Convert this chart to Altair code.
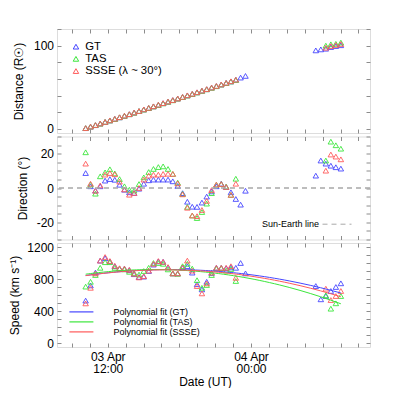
import altair as alt
import pandas as pd

# ---------------- data (hours since 2010-04-03 00:00 UT) ----------------
T1 = [10.15, 10.56, 10.97, 11.37, 11.78, 12.18, 12.59, 12.99, 13.40, 13.81,
      14.21, 14.62, 15.02, 15.43, 15.83, 16.24, 16.64, 17.05, 17.45, 17.86,
      18.27, 18.67, 19.08, 19.48, 19.89, 20.29, 20.70, 21.10, 21.51, 21.92,
      22.32, 22.73, 23.13, 23.54]
T2 = [29.43, 29.85, 30.27, 30.69, 31.11, 31.53]

SERIES = ["GT", "TAS", "SSSE"]
COLORS = ["#4646ff", "#3ce63c", "#ff5a5a"]

DIST_GT = [0.8, 2.6, 4.4, 6.4, 8.2, 10.1, 12.0, 13.8, 15.7, 17.6, 19.5, 21.3, 23.3, 25.1,
           27.0, 28.8, 30.8, 32.6, 34.5, 36.4, 38.2, 40.2, 42.0, 43.9, 45.8, 47.6, 49.6,
           51.4, 53.3, 55.2, 57.0, 59.0, 61.6, 63.6]
DIST_GT_2 = [94.3, 95.5, 96.3, 98.3, 99.5, 100.5]
DIST_TAS = [0.9, 2.7, 4.5, 6.2, 8.3, 10.0, 11.8, 13.9, 15.6, 17.5, 19.3, 21.4, 23.1, 25.0,
            26.9, 28.7, 30.6, 32.5, 34.3, 36.3, 38.1, 40.0, 41.8, 43.7, 45.6, 47.5, 49.3,
            51.2, 53.2, 55.0, 56.9, 58.7]
DIST_TAS_2 = [100.0, 101.6, 102.2, 103.7]
DIST_SSSE = [0.9, 2.7, 4.6, 6.4, 8.3, 10.2, 12.1, 14.0, 15.8, 17.7, 19.6, 21.4, 23.4, 25.2,
             27.1, 29.0, 30.9, 32.8, 34.6, 36.5, 38.4, 40.3, 42.1, 44.0, 45.9, 47.8, 49.6,
             51.6, 53.4, 55.3, 57.2, 59.1]
DIST_SSSE_2 = [97.5, 99.5, 100.8, 102.0]

DIR_GT = [8.7, 1.0, -1.5, 1.0, 4.3, 5.2, 4.8, 1.9, -1.0, -2.5, -2.9, -0.4, 2.5, 4.5,
          4.9, 4.9, 4.9, 4.9, 3.9, 1.2, -3.0, -8.0, -10.9, -11.0, -8.5, -5.0, -2.0,
          1.0, 2.5, 0.6, -2.5, -6.4, -9.7, -1.6]
DIR_GT_2 = [7.2, 16.0, 14.2, 13.0, 12.1, 11.3]
DIR_TAS = [20.8, 2.0, -3.3, 6.8, 9.1, 10.9, 8.5, 5.2, 1.0, -1.0, -1.5, 2.3, 6.2, 9.3,
           11.1, 12.2, 12.6, 11.1, 8.2, 3.1, -3.5, -11.0, -16.0, -17.5, -14.0, -9.1,
           -3.0, 1.9, 2.3, 0.8, -4.0, 5.4]
DIR_TAS_2 = [16.0, 27.0, 24.9, 22.9]
DIR_SSSE = [14.2, 2.5, -1.6, 1.5, 7.8, 8.7, 8.0, 3.7, -0.8, -3.9, -2.9, 0.0, 4.9, 7.2,
            7.8, 7.8, 8.2, 8.3, 8.2, 2.7, -3.7, -11.5, -16.0, -16.4, -12.8, -7.5, -1.2,
            2.0, 2.3, 0.6, -4.0, 2.5]
DIR_SSSE_2 = [10.1, 19.5, 18.3, 16.7]

SPD_GT = [530, 720, 880, 1030, 1060, 1020, 960, 930, 930, 910, 860, 825, 830, 900,
          980, 1020, 1015, 945, 870, 870, 940, 960, 880, 735, 670, 765, 875, 940,
          940, 935, 945, 940, 1000, 870]
SPD_GT_2 = [712, 546, 587, 650, 700, 746]
SPD_TAS = [705, 765, 850, 940, 1010, 1010, 940, 930, 920, 890, 875, 855, 900, 940,
           1000, 1000, 990, 920, 870, 865, 960, 990, 930, 785, 690, 725, 850, 930,
           935, 905, 925, 775]
SPD_TAS_2 = [596, 429, 496, 587]
SPD_SSSE = [495, 690, 870, 1030, 1075, 1025, 965, 935, 930, 915, 865, 820, 835, 905,
            990, 1025, 1015, 950, 870, 870, 945, 1030, 905, 712, 620, 745, 880, 940,
            940, 940, 960, 815]
SPD_SSSE_2 = [679, 537, 587, 650]

X_TICKS = [9, 10.5, 12, 13.5, 15, 16.5, 18, 19.5, 21, 22.5, 24, 25.5, 27, 28.5, 30, 31.5, 33]
X_LABELS = {12: ["03 Apr", "12:00"], 24: ["04 Apr", "00:00"]}
DIST_TICKS = [0, 20, 40, 60, 80, 100, 120]
DIST_LABELS = [0, 100]
DIR_TICKS = [-30, -25, -20, -15, -10, -5, 0, 5, 10, 15, 20, 25, 30]
DIR_LABELS = [-20, 0, 20]
SPD_TICKS = [0, 100, 200, 300, 400, 500, 600, 700, 800, 900, 1000, 1100, 1200]
SPD_LABELS = [0, 400, 800, 1200]


def long(parts):
    rows = []
    for s, (a, b) in zip(SERIES, parts):
        times = T1[:len(a)] + T2[len(T2) - len(b):]
        for t, v in zip(times, list(a) + list(b)):
            rows.append({"t": t, "v": v, "s": s})
    return pd.DataFrame(rows)


df_dist = long([(DIST_GT, DIST_GT_2), (DIST_TAS, DIST_TAS_2), (DIST_SSSE, DIST_SSSE_2)])
df_dir = long([(DIR_GT, DIR_GT_2), (DIR_TAS, DIR_TAS_2), (DIR_SSSE, DIR_SSSE_2)])
df_spd = long([(SPD_GT, SPD_GT_2), (SPD_TAS, SPD_TAS_2), (SPD_SSSE, SPD_SSSE_2)])
df_zero = pd.DataFrame({"y": [0], "lab": ["Sun-Earth line"]})

# ---------------- styling ----------------
FONT = "Liberation Sans"
GRAY = "#8c8c8c"
W = 313
TICK = {"expr": "-4"}
XSCALE = alt.Scale(domain=[7.75, 33.97], nice=False, zero=False)


def test_of(vals):
    return " || ".join(f"datum.value == {v}" for v in vals)


def x_axis(orient, labels=False, title=None):
    kw = dict(orient=orient, values=X_TICKS, tickSize=TICK, tickColor=GRAY, domain=False,
              grid=False, labels=labels, title=title)
    if labels:
        expr = " : ".join(
            f"datum.value == {k} ? ['{v[0]}', '{v[1]}']" for k, v in X_LABELS.items()) + " : ''"
        kw.update(labelExpr=expr, labelPadding=8.5,
                  labelFontSize={"condition": {"test": test_of(X_LABELS), "value": 12}, "value": 0},
                  labelLineHeight=12, labelOverlap=False, labelFlush=False, labelBound=False,
                  titleFontSize=12, titlePadding=2, titleFontWeight="normal", titleX=148)
    return alt.Axis(**kw)


def y_axis(orient, ticks, labs, title=None, title_x=None):
    kw = dict(orient=orient, values=ticks, tickSize=TICK, tickColor=GRAY, domain=False,
              grid=False, labels=title is not None, title=title)
    if title is not None:
        kw.update(labelExpr=f"({test_of(labs)}) ? replace(datum.label, '\u2212', '-') : ''",
                  labelPadding=7.5,
                  labelFontSize={"condition": {"test": test_of(labs), "value": 12}, "value": 0},
                  format="d", labelOverlap=False, labelFlush=False, titleFontSize=12,
                  titleFontWeight="normal", titlePadding=5)
        if title_x is not None:
            kw.update(titleX=title_x)
    return alt.Axis(**kw)


def points(df, yscale, ax_y, legend=None, xaxis=None):
    return alt.Chart(df).mark_point(shape="triangle-up", filled=False, size=30,
                                   strokeWidth=0.9, opacity=1).encode(
        x=alt.X("t:Q", scale=XSCALE, axis=xaxis if xaxis is not None else x_axis("bottom")),
        y=alt.Y("v:Q", scale=yscale, axis=ax_y),
        color=alt.Color("s:N", scale=alt.Scale(domain=SERIES, range=COLORS), legend=legend),
    )


def frame(df, yscale, ticks):
    return alt.Chart(df).mark_point(opacity=0).encode(
        x=alt.X("t:Q", scale=XSCALE, axis=x_axis("top")),
        y=alt.Y("v:Q", scale=yscale, axis=y_axis("right", ticks, [])),
    )


# ---- panel 1: distance
ys1 = alt.Scale(domain=[-5, 120], nice=False, zero=False)
leg1 = alt.Legend(orient="none", legendX=13.3, legendY=12, title=None, padding=0,
                  symbolSize=30, symbolStrokeWidth=1, labelFontSize=11.3, labelOffset=3.7,
                  rowPadding=0.2, labelFont=FONT,
                  labelExpr="datum.label == 'SSSE' ? 'SSSE (λ ~ 30°)' : datum.label")
p1 = alt.layer(
    points(df_dist, ys1, y_axis("left", DIST_TICKS, DIST_LABELS, "Distance (R☉)", -31.3), leg1),
    frame(df_dist, ys1, DIST_TICKS),
).resolve_axis(x="independent", y="independent").properties(width=W, height=104)

# ---- panel 2: direction
ys2 = alt.Scale(domain=[-30, 30], nice=False, zero=False)
zero = alt.Chart(df_zero).mark_rule(color="#a8a8a8", strokeWidth=1.3).encode(
    y=alt.Y("y:Q", scale=ys2, axis=None),
    strokeDash=alt.StrokeDash("lab:N", scale=alt.Scale(range=[[5, 4]]),
                              legend=alt.Legend(orient="none", legendX=265, legendY=72.7,
                                                title=None, padding=0, symbolType="stroke",
                                                symbolSize=841, symbolStrokeColor="#a8a8a8",
                                                symbolStrokeWidth=1, labelFontSize=9,
                                                labelAlign="right", labelOffset={"expr": "-33"},
                                                labelFont=FONT)),
)
p2 = alt.layer(
    points(df_dir, ys2, y_axis("left", DIR_TICKS, DIR_LABELS, "Direction (°)", -28)),
    frame(df_dir, ys2, DIR_TICKS),
    zero,
).resolve_axis(x="independent", y="independent").properties(width=W, height=103)

# ---- panel 3: speed
ys3 = alt.Scale(domain=[-50, 1250], nice=False, zero=False)
FIT_NAMES = ["Polynomial fit (GT)", "Polynomial fit (TAS)", "Polynomial fit (SSSE)"]
fits = alt.Chart(df_spd).transform_regression(
    "t", "v", groupby=["s"], method="poly", order=2
).transform_calculate(fit="'Polynomial fit (' + datum.s + ')'").mark_line(strokeWidth=1).encode(
    x=alt.X("t:Q", scale=XSCALE, axis=None),
    y=alt.Y("v:Q", scale=ys3, axis=None),
    color=alt.Color("fit:N", scale=alt.Scale(domain=FIT_NAMES, range=COLORS),
                    legend=alt.Legend(orient="none", legendX=19.9, legendY=64.4, title=None,
                                      padding=0, symbolType="M-4,0H4", symbolSize=36,
                                      symbolStrokeWidth=1.2, labelFontSize=9,
                                      labelOffset=27.7, rowPadding=0,
                                      labelFont=FONT)),
)
p3 = alt.layer(
    points(df_spd, ys3, y_axis("left", SPD_TICKS, SPD_LABELS, "Speed (km s⁻¹)"),
           xaxis=x_axis("bottom", labels=True, title="Date (UT)")),
    frame(df_spd, ys3, SPD_TICKS),
    fits,
).resolve_scale(color="independent").resolve_axis(x="independent", y="independent").properties(
    width=W, height=104)

chart = alt.vconcat(p1, p2, p3, spacing=3.5, bounds="flush").resolve_scale(
    color="independent", strokeDash="independent"
).properties(
    padding={"top": 20, "left": 0, "right": 5, "bottom": 0}
).configure_view(stroke=GRAY, strokeWidth=1).configure(
    font=FONT
).configure_axis(labelFont=FONT, titleFont=FONT, labelColor="black", titleColor="black")

chart.save("out.html", embed_options={"renderer": "svg", "actions": False})
